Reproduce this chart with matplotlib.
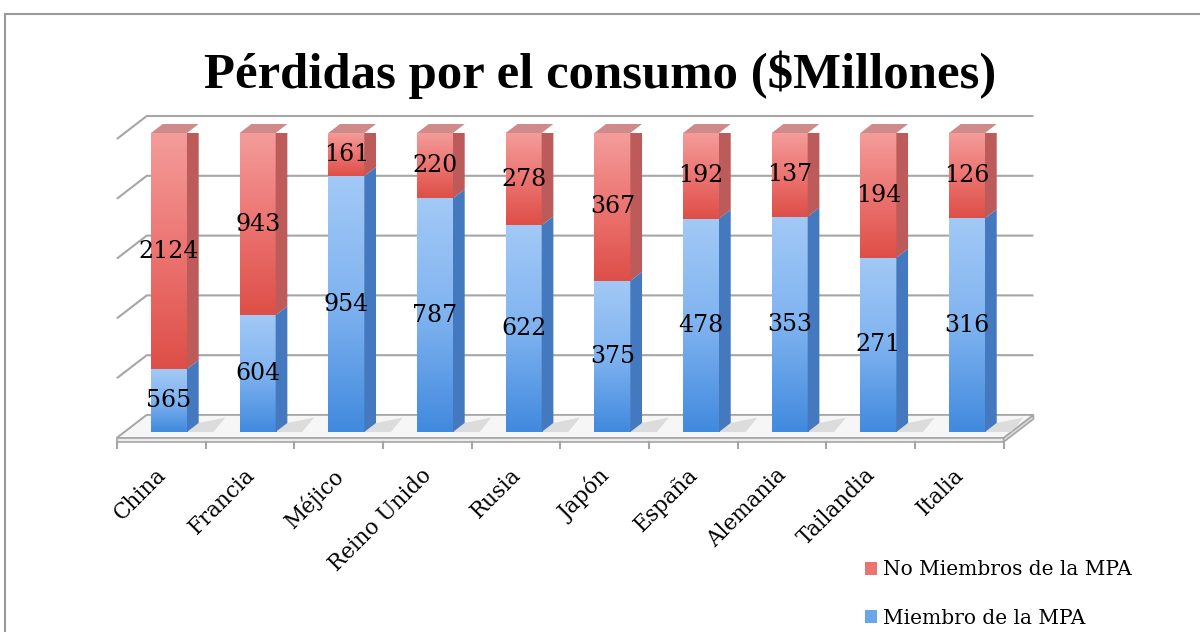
import numpy as np
import matplotlib
matplotlib.use("Agg")
import matplotlib.pyplot as plt
from matplotlib.patches import Polygon, Rectangle, Patch
from matplotlib.colors import LinearSegmentedColormap

# data
paises = ["China", "Francia", "Méjico", "Reino Unido", "Rusia", "Japón",
          "España", "Alemania", "Tailandia", "Italia"]
miembros = [565, 604, 954, 787, 622, 375, 478, 353, 271, 316]
no_miembros = [2124, 943, 161, 220, 278, 367, 192, 137, 194, 126]
serie_nombres = ["No Miembros de la MPA", "Miembro de la MPA"]
niveles = [0, 20, 40, 60, 80, 100]

miembros = np.array(miembros, dtype=float)
no_miembros = np.array(no_miembros, dtype=float)
total = miembros + no_miembros
pct_azul = miembros / total * 100

fig = plt.figure(figsize=(12, 6.32), dpi=100)
ax = fig.add_axes([0.10388, 0.31646, 0.73892, 0.47310])
ax.set_xlim(-0.5, 9.5)
ax.set_ylim(0, 100)
ax.axis("off")

# pixel -> data unit helpers for the fake 3d depth
px_x = 88.7   # px per category
px_y = 2.99   # px per percent
def dep(d):
    return 1.3 * d / px_x, d / px_y

fx, fy = dep(-6)     # front edge of floor
wx, wy = dep(17)     # back wall
bx, by = dep(9)      # bar depth
grid_c = "#a6a6a6"

# walls and gridlines
for lv in niveles:
    ax.plot([-0.5 + fx, -0.5 + wx, 9.5 + wx], [lv + fy, lv + wy, lv + wy],
            color=grid_c, lw=1.5, zorder=1, clip_on=False, solid_capstyle="butt")

# floor
floor = Polygon([(-0.5 + fx, fy), (9.5 + fx, fy), (9.5 + wx, wy), (-0.5 + wx, wy)],
                closed=True, facecolor="#f6f6f6", edgecolor=grid_c, lw=1.2, zorder=2,
                clip_on=False)
ax.add_patch(floor)
slab = 4 / px_y
ax.add_patch(Polygon([(-0.5 + fx, fy), (9.5 + fx, fy), (9.5 + fx, fy - slab),
                      (-0.5 + fx, fy - slab)], closed=True, facecolor="#ececec",
                     edgecolor=grid_c, lw=1.2, zorder=2, clip_on=False))
ax.add_patch(Polygon([(9.5 + fx, fy), (9.5 + wx, wy), (9.5 + wx, wy - slab),
                      (9.5 + fx, fy - slab)], closed=True, facecolor="#dcdcdc",
                     edgecolor=grid_c, lw=1.2, zorder=2, clip_on=False))
for k in range(11):
    ax.plot([k - 0.5 + fx, k - 0.5 + fx], [fy - slab, fy - slab - 6 / px_y],
            color=grid_c, lw=1.5, zorder=2, clip_on=False)

# shadows on floor
w = 0.203
for i in range(len(paises)):
    sh = Polygon([(i + w, 0), (i + w + 0.3, 0), (i + w + 0.3 + bx, by * 1.6),
                  (i + w + bx, by)], closed=True, facecolor="#d2d2d2",
                 edgecolor="none", alpha=0.7, zorder=2.5, clip_on=False)
    ax.add_patch(sh)

cm_azul = LinearSegmentedColormap.from_list("az", ["#428ade", "#7fb3f0", "#a2c9f6"])
cm_rojo = LinearSegmentedColormap.from_list("ro", ["#de4f48", "#ec7471", "#f49c9a"])
grad = np.linspace(0, 1, 64).reshape(-1, 1)

for i in range(len(paises)):
    x0, x1 = i - w, i + w
    segs = [(0, pct_azul[i], cm_azul, "#4479bf", miembros[i]),
            (pct_azul[i], 100, cm_rojo, "#bd5a5a", no_miembros[i])]
    for y0, y1, cm, side_c, val in segs:
        ax.imshow(grad, extent=[x0, x1, y0, y1], origin="lower", cmap=cm,
                  aspect="auto", zorder=3, interpolation="bilinear")
        side = Polygon([(x1, y0), (x1 + bx, y0 + by), (x1 + bx, y1 + by), (x1, y1)],
                       closed=True, facecolor=side_c, edgecolor="none", zorder=3)
        ax.add_patch(side)
        ax.text(i, (y0 + y1) / 2, f"{int(val)}", ha="center", va="center",
                fontsize=17, family="DejaVu Serif", color="black", zorder=10)
    top = Polygon([(x0, 100), (x1, 100), (x1 + bx, 100 + by), (x0 + bx, 100 + by)],
                  closed=True, facecolor="#cf8a8a", edgecolor="none", zorder=3,
                  clip_on=False)
    ax.add_patch(top)

ax.set_xlim(-0.5, 9.5)
ax.set_ylim(0, 100)

# category labels
for i, p in enumerate(paises):
    ax.text(i + fx - 0.07, fy - slab - 22 / px_y, p, rotation=45, ha="right", va="top",
            rotation_mode="anchor", fontsize=15.5, family="DejaVu Serif", zorder=10)

fig.text(0.5, 1 - 88 / 632, "Pérdidas por el consumo ($Millones)", ha="center",
         va="baseline", fontsize=36.5, fontweight="bold", family="Liberation Serif")

handles = [Patch(facecolor="#ec7370", edgecolor="none"),
           Patch(facecolor="#6aa6ec", edgecolor="none")]
fig.legend(handles, serie_nombres, loc="upper left", bbox_to_anchor=(0.706, 0.142),
           frameon=False, handlelength=0.6, handleheight=0.6, handletextpad=0.3,
           labelspacing=1.45, prop={"family": "DejaVu Serif", "size": 14.5})

# outer frame
fig.patches.append(Rectangle((5 / 1200, -0.1), 1.2, 1.1 - 14 / 632, transform=fig.transFigure,
                             fill=False, edgecolor="#9a9a9a", lw=1.5))

fig.savefig("out.png", dpi=100)
